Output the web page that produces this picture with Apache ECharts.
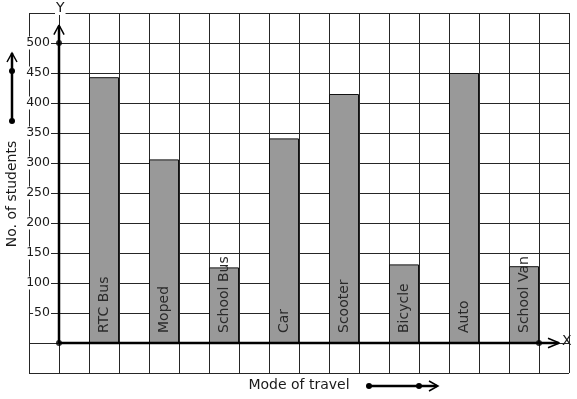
<!DOCTYPE html>
<html>
<head>
<meta charset="utf-8">
<script src="https://cdn.jsdelivr.net/npm/echarts@6/dist/echarts.min.js"></script>
<style>html,body{margin:0;padding:0;background:#fff}#c{width:577px;height:399px}</style>
</head>
<body>
<div id="c"></div>
<script>
const categories = ['RTC Bus','Moped','School Bus','Car','Scooter','Bicycle','Auto','School Van'];
const students = [443, 306, 126, 341, 415, 131, 450, 128];
const barPositions = [1.5, 3.5, 5.5, 7.5, 9.5, 11.5, 13.5, 15.5];
const yTickLabels = [50,100,150,200,250,300,350,400,450,500];

const FONT = 'DejaVu Sans';
const chart = echarts.init(document.getElementById('c'), null, {renderer:'canvas'});
const barData = categories.map((c,i)=>({value:[barPositions[i], students[i]], name:c}));

chart.setOption({
  animation:false,
  grid:{left:29, top:13, width:540, height:360, containLabel:false},
  xAxis:{type:'value', min:-1, max:17, interval:1,
    axisLine:{show:false}, axisTick:{show:false}, axisLabel:{show:false},
    splitLine:{show:true, lineStyle:{color:'#262626', width:1}}},
  yAxis:{type:'value', min:-50, max:550, interval:50, position:'left', offset:-23,
    axisLine:{show:false}, axisTick:{show:false},
    axisLabel:{margin:1, fontFamily:FONT, fontSize:12.5, color:'#1a1a1a', backgroundColor:'#fff', padding:[0,1,0,1],
      formatter:v=> yTickLabels.includes(v) ? String(v) : ''},
    splitLine:{show:true, lineStyle:{color:'#262626', width:1}}},
  series:[
    {type:'bar', data:barData, barWidth:30, z:3,
      itemStyle:{color:'#999999', borderColor:'#111', borderWidth:1},
      label:{show:true, position:'insideBottom', rotate:90, align:'left', verticalAlign:'middle', distance:10,
        fontFamily:FONT, fontSize:14, color:'#2a2a2a', formatter:p=>p.name}},
    {type:'line', data:[[0,0],[16.65,0]], symbol:'none', z:5, lineStyle:{color:'#000', width:2.5}},
    {type:'line', data:[[0,0],[0,528]], symbol:'none', z:5, lineStyle:{color:'#000', width:2.5}},
    {type:'line', data:[[16.3,8],[16.68,0],[16.3,-8]], symbol:'none', z:5, lineStyle:{color:'#000', width:1.5}},
    {type:'line', data:[[-0.17,514],[0,530],[0.17,514]], symbol:'none', z:5, lineStyle:{color:'#000', width:1.5}},
    {type:'scatter', data:[[0,0],[0,500],[16,0]], symbol:'circle', symbolSize:6, z:6, itemStyle:{color:'#000'}}
  ],
  graphic:[
    {type:'text', left:55, top:1, z:10, style:{text:'Y', fontFamily:FONT, fontSize:14, fill:'#1a1a1a', backgroundColor:'#fff', padding:[0,1]}},
    {type:'text', left:562, top:334, z:10, style:{text:'X', fontFamily:FONT, fontSize:14, fill:'#1a1a1a'}},
    {type:'text', x:12, y:194, rotation:Math.PI/2, z:10, style:{text:'No. of students', fontFamily:FONT, fontSize:14, fill:'#1a1a1a', align:'center', verticalAlign:'middle'}},
    {type:'text', x:299, y:385, z:10, style:{text:'Mode of travel', fontFamily:FONT, fontSize:14, fill:'#1a1a1a', align:'center', verticalAlign:'middle'}},
    {type:'polyline', z:10, shape:{points:[[12,121],[12,53]]}, style:{stroke:'#000', lineWidth:2.5}},
    {type:'polyline', z:10, shape:{points:[[7,62],[12,53],[17,62]]}, style:{stroke:'#000', lineWidth:1.5, fill:null}},
    {type:'circle', z:10, shape:{cx:12, cy:71, r:3}, style:{fill:'#000'}},
    {type:'circle', z:10, shape:{cx:12, cy:121, r:3}, style:{fill:'#000'}},
    {type:'polyline', z:10, shape:{points:[[369,386],[437,386]]}, style:{stroke:'#000', lineWidth:2.5}},
    {type:'polyline', z:10, shape:{points:[[429,381],[438,386],[429,391]]}, style:{stroke:'#000', lineWidth:1.5, fill:null}},
    {type:'circle', z:10, shape:{cx:369, cy:386, r:3}, style:{fill:'#000'}},
    {type:'circle', z:10, shape:{cx:419, cy:386, r:3}, style:{fill:'#000'}}
  ]
});
</script>
</body>
</html>
